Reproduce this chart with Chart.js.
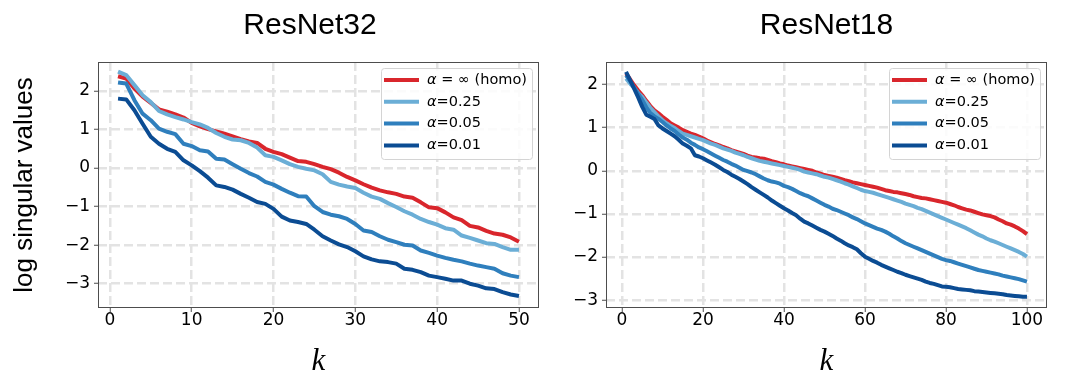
<!DOCTYPE html>
<html>
<head>
<meta charset="utf-8">
<script src="https://cdn.jsdelivr.net/npm/chart.js@4.4.1/dist/chart.umd.min.js"></script>
<style>
html,body{margin:0;padding:0;background:#fff;}
#wrap{position:relative;width:1066px;height:383px;overflow:hidden;background:#fff;}
.box{position:absolute;top:0;height:383px;}
canvas{display:block;}
</style>
</head>
<body>
<div id="wrap">
  <div class="box" style="left:0;width:620px;"><canvas id="cA" width="620" height="383"></canvas></div>
  <div class="box" style="left:548px;width:518px;"><canvas id="cB" width="518" height="383"></canvas></div>
</div>
<script>
// ---------------- DATA ----------------
const seriesLabels = ['α = ∞ (homo)', 'α=0.25', 'α=0.05', 'α=0.01'];
const titles = ['ResNet32', 'ResNet18'];
const yAxisLabel = 'log singular values';
const xAxisLabel = 'k';

const kResNet32 = [1,2,3,4,5,6,7,8,9,10,11,12,13,14,15,16,17,18,19,20,21,22,23,24,25,26,27,28,29,30,31,32,33,34,35,36,37,38,39,40,41,42,43,44,45,46,47,48,49,50];
const kResNet18 = [1,2,3,4,5,6,7,8,9,10,11,12,13,14,15,16,17,18,19,20,21,22,23,24,25,26,27,28,29,30,31,32,33,34,35,36,37,38,39,40,41,42,43,44,45,46,47,48,49,50,51,52,53,54,55,56,57,58,59,60,61,62,63,64,65,66,67,68,69,70,71,72,73,74,75,76,77,78,79,80,81,82,83,84,85,86,87,88,89,90,91,92,93,94,95,96,97,98,99,100];

const xTicksResNet32 = [0, 10, 20, 30, 40, 50];
const xTicksResNet18 = [0, 20, 40, 60, 80, 100];
const yTicksResNet32 = [-3, -2, -1, 0, 1, 2];
const yTicksResNet18 = [-3, -2, -1, 0, 1, 2];

const r32_homo = [2.38,2.32,2.06,1.85,1.69,1.52,1.46,1.39,1.31,1.17, 1.08,1.01,0.95,0.89,0.82,0.75,0.69,0.65,0.50,0.42, 0.36,0.27,0.18,0.16,0.10,0.03,-0.03,-0.12,-0.23,-0.32, -0.42,-0.51,-0.58,-0.63,-0.67,-0.74,-0.77,-0.89,-1.02,-1.04, -1.15,-1.28,-1.35,-1.50,-1.54,-1.63,-1.70,-1.73,-1.80,-1.91];
const r32_a025 = [2.50,2.41,2.15,1.89,1.71,1.48,1.39,1.32,1.26,1.19, 1.13,1.04,0.91,0.81,0.74,0.72,0.65,0.53,0.33,0.29, 0.20,0.10,0.03,-0.02,-0.06,-0.16,-0.36,-0.43,-0.48,-0.52, -0.64,-0.74,-0.80,-0.91,-1.01,-1.12,-1.21,-1.32,-1.40,-1.47, -1.56,-1.60,-1.75,-1.81,-1.88,-1.95,-1.97,-2.05,-2.12,-2.12];
const r32_a005 = [2.22,2.19,1.76,1.41,1.24,1.02,0.94,0.88,0.63,0.57, 0.46,0.43,0.24,0.22,0.10,-0.02,-0.13,-0.22,-0.36,-0.43, -0.54,-0.64,-0.73,-0.74,-0.99,-1.14,-1.21,-1.25,-1.32,-1.45, -1.62,-1.66,-1.77,-1.86,-1.92,-1.99,-2.01,-2.14,-2.20,-2.27, -2.33,-2.38,-2.42,-2.48,-2.53,-2.57,-2.61,-2.73,-2.79,-2.83];
const r32_a001 = [1.80,1.78,1.50,1.15,0.81,0.63,0.50,0.42,0.20,0.07, -0.08,-0.25,-0.45,-0.49,-0.56,-0.67,-0.77,-0.88,-0.93,-1.06, -1.26,-1.36,-1.40,-1.45,-1.60,-1.77,-1.88,-1.98,-2.05,-2.16, -2.29,-2.37,-2.42,-2.44,-2.48,-2.61,-2.64,-2.70,-2.79,-2.83, -2.87,-2.92,-2.92,-3.00,-3.05,-3.12,-3.14,-3.22,-3.28,-3.32];

const r18_homo = [2.25,2.12,1.98,1.86,1.75,1.62,1.50,1.40,1.33,1.25, 1.18,1.10,1.05,1.00,0.94,0.90,0.86,0.83,0.79,0.75, 0.70,0.66,0.62,0.59,0.55,0.52,0.48,0.45,0.42,0.39, 0.35,0.32,0.31,0.29,0.28,0.25,0.22,0.20,0.17,0.15, 0.12,0.10,0.08,0.06,0.04,0.02,0.00,-0.04,-0.07,-0.10, -0.12,-0.14,-0.16,-0.19,-0.22,-0.24,-0.27,-0.29,-0.31,-0.33, -0.35,-0.37,-0.39,-0.42,-0.45,-0.47,-0.49,-0.50,-0.52,-0.54, -0.56,-0.59,-0.61,-0.63,-0.64,-0.66,-0.68,-0.70,-0.72,-0.74, -0.77,-0.80,-0.84,-0.87,-0.90,-0.92,-0.95,-0.98,-1.01,-1.03, -1.05,-1.08,-1.13,-1.17,-1.22,-1.25,-1.29,-1.34,-1.40,-1.47];
const r18_a025 = [2.14,2.02,1.92,1.80,1.71,1.58,1.46,1.36,1.26,1.17, 1.10,1.04,0.99,0.92,0.86,0.83,0.80,0.77,0.74,0.71, 0.67,0.63,0.60,0.56,0.52,0.49,0.46,0.42,0.39,0.36, 0.32,0.29,0.26,0.23,0.21,0.19,0.17,0.15,0.13,0.11, 0.09,0.07,0.05,0.02,-0.02,-0.04,-0.06,-0.08,-0.11,-0.14, -0.16,-0.19,-0.22,-0.25,-0.29,-0.32,-0.36,-0.40,-0.44,-0.47, -0.49,-0.51,-0.54,-0.57,-0.60,-0.63,-0.66,-0.69,-0.72,-0.76, -0.79,-0.82,-0.86,-0.89,-0.93,-0.97,-1.01,-1.05,-1.09,-1.13, -1.17,-1.21,-1.25,-1.29,-1.33,-1.38,-1.43,-1.48,-1.52,-1.57, -1.61,-1.64,-1.68,-1.72,-1.76,-1.80,-1.84,-1.88,-1.93,-1.99];
const r18_a005 = [2.21,2.08,1.93,1.78,1.64,1.47,1.34,1.26,1.20,1.13, 1.05,0.98,0.92,0.84,0.77,0.72,0.65,0.60,0.54,0.50, 0.45,0.40,0.35,0.30,0.25,0.21,0.16,0.12,0.07,0.02, -0.01,-0.04,-0.08,-0.13,-0.18,-0.22,-0.25,-0.27,-0.30,-0.35, -0.38,-0.42,-0.47,-0.52,-0.56,-0.59,-0.64,-0.69,-0.74,-0.79, -0.83,-0.88,-0.91,-0.95,-0.99,-1.03,-1.08,-1.12,-1.17,-1.22, -1.26,-1.30,-1.34,-1.37,-1.41,-1.46,-1.52,-1.57,-1.63,-1.68, -1.72,-1.76,-1.80,-1.84,-1.88,-1.92,-1.96,-2.00,-2.04,-2.07, -2.09,-2.12,-2.15,-2.18,-2.21,-2.24,-2.27,-2.30,-2.32,-2.34, -2.36,-2.38,-2.40,-2.43,-2.45,-2.47,-2.49,-2.51,-2.54,-2.57];
const r18_a001 = [2.29,2.10,1.90,1.70,1.48,1.30,1.25,1.20,1.05,0.98, 0.92,0.86,0.80,0.72,0.63,0.58,0.52,0.36,0.33,0.29, 0.24,0.19,0.14,0.08,0.02,-0.03,-0.09,-0.14,-0.19,-0.25, -0.31,-0.38,-0.44,-0.50,-0.56,-0.62,-0.69,-0.75,-0.81,-0.87, -0.92,-0.98,-1.03,-1.11,-1.18,-1.22,-1.27,-1.32,-1.37,-1.41, -1.46,-1.51,-1.57,-1.62,-1.68,-1.73,-1.77,-1.82,-1.91,-1.99, -2.04,-2.09,-2.13,-2.18,-2.22,-2.26,-2.30,-2.34,-2.37,-2.41, -2.44,-2.47,-2.50,-2.53,-2.57,-2.60,-2.62,-2.65,-2.68,-2.69, -2.70,-2.72,-2.74,-2.75,-2.76,-2.77,-2.79,-2.80,-2.81,-2.82, -2.83,-2.84,-2.85,-2.86,-2.88,-2.89,-2.90,-2.91,-2.92,-2.92];

// ---------------- STYLE ----------------
const COLORS = ['#d9262c', '#6baed6', '#2f7fbd', '#0b4c93'];
const GRID_COLOR = '#e3e3e3';
const FRAME_COLOR = '#4d4d4d';

const fmtTick = v => (v < 0 ? '\u2212' + Math.abs(v) : String(v));

const framePlugin = {
  id: 'frameBox',
  afterDatasetsDraw(chart) {
    const {ctx, chartArea: a} = chart;
    ctx.save();
    ctx.strokeStyle = FRAME_COLOR;
    ctx.lineWidth = 1;
    ctx.strokeRect(Math.round(a.left) + 0.5, Math.round(a.top) + 0.5,
                   Math.round(a.right - a.left) - 1, Math.round(a.bottom - a.top) - 1);
    ctx.restore();
  }
};

const legendPlugin = {
  id: 'boxLegend',
  afterDraw(chart) {
    const {ctx, chartArea: a} = chart;
    const w = 151, h = 91;
    const x0 = Math.round(a.right - 7.5 - w), y0 = Math.round(a.top + 6);
    ctx.save();
    ctx.beginPath();
    ctx.roundRect(x0 + 0.5, y0 + 0.5, w, h, 3);
    ctx.fillStyle = 'rgba(255,255,255,0.85)';
    ctx.fill();
    ctx.strokeStyle = '#d4d4d4';
    ctx.lineWidth = 1;
    ctx.stroke();
    chart.data.datasets.forEach((ds, i) => {
      const cy = y0 + 12 + i * 21.8;
      ctx.strokeStyle = ds.borderColor;
      ctx.lineWidth = 4;
      ctx.lineCap = 'butt';
      ctx.beginPath();
      ctx.moveTo(x0 + 3, cy);
      ctx.lineTo(x0 + 38, cy);
      ctx.stroke();
      let tx = x0 + 46;
      ctx.fillStyle = '#000';
      ctx.textBaseline = 'middle';
      ctx.textAlign = 'left';
      const lab = ds.label;
      if (lab.startsWith('α')) {
        ctx.font = 'italic 14.5px "DejaVu Sans"';
        ctx.fillText('α', tx, cy);
        tx += ctx.measureText('α').width;
        ctx.font = '14.5px "DejaVu Sans"';
        ctx.fillText(lab.slice(1), tx, cy);
      } else {
        ctx.font = '14.5px "DejaVu Sans"';
        ctx.fillText(lab, tx, cy);
      }
    });
    ctx.restore();
  }
};

function axisCommon(ticksArr) {
  return {
    type: 'linear',
    afterBuildTicks: s => { s.ticks = ticksArr.map(v => ({value: v})); },
    grid: {
      color: GRID_COLOR, lineWidth: 2.5, drawTicks: true, tickLength: 4,
      tickColor: FRAME_COLOR, tickWidth: 1, tickBorderDash: []
    },
    border: {display: false, dash: [9, 4]},
    ticks: {
      color: '#000', padding: 4, autoSkip: false, maxRotation: 0,
      font: {family: 'DejaVu Sans', size: 17, lineHeight: 1},
      callback: v => fmtTick(v)
    }
  };
}

function makeChart(id, cfg) {
  const x = axisCommon(cfg.xTicks);
  x.min = cfg.xmin; x.max = cfg.xmax; x.position = 'bottom';
  x.ticks.padding = 0;
  x.afterFit = s => { s.height = 75; };
  x.title = {display: true, text: xAxisLabel, color: '#000',
             font: {family: 'Liberation Serif', style: 'italic', size: 31, lineHeight: 1.2},
             padding: {top: 4, bottom: 3}};
  const y = axisCommon(cfg.yTicks);
  y.min = cfg.ymin; y.max = cfg.ymax; y.position = 'left';
  y.afterFit = s => { s.width = cfg.yWidth; };
  y.title = cfg.yTitle ? {display: true, text: yAxisLabel, color: '#000',
             font: {family: 'Liberation Sans', size: 26, lineHeight: 1.2},
             padding: {top: 9.4, bottom: 0}} : {display: false};
  const scales = {x, y};
  if (cfg.rightSpacer) {
    scales.yR = {type: 'linear', position: 'right', display: true,
                 grid: {display: false, drawTicks: false}, border: {display: false},
                 ticks: {display: false}, afterFit: s => { s.width = cfg.rightSpacer; }};
  }
  return new Chart(document.getElementById(id), {
    type: 'line',
    data: {
      labels: cfg.k,
      datasets: cfg.series.map((s, i) => ({
        label: seriesLabels[i], data: s, borderColor: COLORS[i], backgroundColor: COLORS[i],
        borderWidth: 4, pointRadius: 0, pointHoverRadius: 0, tension: 0, fill: false,
        order: 4 - i, borderJoinStyle: 'round', borderCapStyle: 'butt', yAxisID: 'y', xAxisID: 'x'
      }))
    },
    options: {
      responsive: false, animation: false, devicePixelRatio: 1,
      events: [],
      layout: {padding: {left: 0, right: cfg.padRight, top: 0, bottom: 0}},
      plugins: {
        legend: {display: false}, tooltip: {enabled: false},
        title: {display: true, text: cfg.title, fullSize: cfg.fullSize, color: '#000',
                font: {family: 'Liberation Sans', size: 30, weight: 'normal', lineHeight: 1.2},
                padding: {top: 7.4, bottom: 18.6}}
      },
      scales
    },
    plugins: [framePlugin, legendPlugin]
  });
}

makeChart('cA', {
  title: titles[0], k: kResNet32, series: [r32_homo, r32_a025, r32_a005, r32_a001],
  xTicks: xTicksResNet32, yTicks: yTicksResNet32,
  xmin: -1.45, xmax: 52.45, ymin: -3.63, ymax: 2.75,
  yWidth: 98, yTitle: true, padRight: 0, rightSpacer: 81, fullSize: true
});
makeChart('cB', {
  title: titles[1], k: kResNet18, series: [r18_homo, r18_a025, r18_a005, r18_a001],
  xTicks: xTicksResNet18, yTicks: yTicksResNet18,
  xmin: -3.95, xmax: 104.95, ymin: -3.18, ymax: 2.52,
  yWidth: 58, yTitle: false, padRight: 19, rightSpacer: 0, fullSize: false
});
</script>
</body>
</html>
